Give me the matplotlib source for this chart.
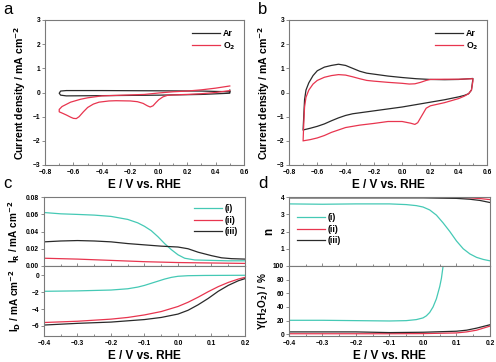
import matplotlib
matplotlib.use("Agg")
import matplotlib.pyplot as plt
import numpy as np

plt.rcParams['font.family'] = ['Liberation Sans', 'DejaVu Sans']
plt.rcParams['font.weight'] = 'bold'
plt.rcParams['axes.labelweight'] = 'bold'
plt.rcParams['mathtext.default'] = 'bf'

# colours
c_black = "#2a2a2a"
c_red = "#e8354f"
c_teal = "#45c9b5"

#####
# DATA
#####

# panel a: CV in Ar / O2 (E in V, j in mA cm-2), closed loops
a_ar_E = [0.5, 0.3, 0.0, -0.4, -0.65, -0.69, -0.7, -0.69, -0.65, -0.4, 0.0, 0.3, 0.5, 0.5]
a_ar_j = [0.03, 0.06, 0.07, 0.08, 0.08, 0.06, -0.03, -0.11, -0.14, -0.13, -0.11, -0.08, -0.03, 0.1]
a_o2_E = [0.5, 0.4, 0.3, 0.2, 0.1, 0.0, -0.1, -0.2, -0.3, -0.4, -0.5, -0.55, -0.62, -0.68, -0.7,
          -0.7, -0.68, -0.65, -0.62, -0.6, -0.58, -0.56, -0.53, -0.5, -0.46, -0.42, -0.35, -0.3,
          -0.2, -0.15, -0.11, -0.08, -0.06, -0.04, -0.02, 0.0, 0.03, 0.06, 0.1, 0.2, 0.3, 0.4, 0.5]
a_o2_j = [0.27, 0.18, 0.11, 0.06, 0.03, -0.02, -0.08, -0.1, -0.12, -0.14, -0.22, -0.28, -0.4, -0.58, -0.7,
          -0.8, -0.85, -0.93, -1.02, -1.07, -1.08, -1.0, -0.8, -0.62, -0.48, -0.4, -0.35, -0.34,
          -0.35, -0.38, -0.45, -0.55, -0.6, -0.55, -0.42, -0.3, -0.18, -0.12, -0.1, -0.08, -0.05, 0.0, 0.08]

# panel b
b_ar_E = [-0.7, -0.695, -0.69, -0.68, -0.66, -0.63, -0.6, -0.55, -0.5, -0.45, -0.4, -0.35, -0.3,
          -0.25, -0.2, -0.1, 0.0, 0.1, 0.2, 0.3, 0.4, 0.5,
          0.5, 0.49, 0.47, 0.44, 0.4, 0.3, 0.2, 0.1, 0.0, -0.1, -0.2, -0.3, -0.35, -0.4, -0.45,
          -0.5, -0.55, -0.6, -0.65, -0.7]
b_ar_j = [-1.5, -0.9, -0.3, 0.1, 0.4, 0.7, 0.9, 1.05, 1.12, 1.17, 1.12, 1.0, 0.88,
          0.8, 0.76, 0.68, 0.62, 0.57, 0.54, 0.53, 0.54, 0.58,
          0.55, 0.1, -0.05, -0.12, -0.18, -0.3, -0.4, -0.5, -0.6, -0.68, -0.76, -0.84, -0.88, -0.95, -1.05,
          -1.17, -1.3, -1.4, -1.48, -1.55]
b_o2_E = [-0.7, -0.695, -0.69, -0.68, -0.66, -0.63, -0.6, -0.55, -0.5, -0.45, -0.4, -0.35, -0.3,
          -0.25, -0.2, -0.1, 0.0, 0.05, 0.09, 0.13, 0.17, 0.2, 0.3, 0.4, 0.5,
          0.5, 0.49, 0.47, 0.44, 0.4, 0.3, 0.2, 0.17, 0.15, 0.13, 0.11, 0.09, 0.06, 0.0, -0.1,
          -0.2, -0.3, -0.4, -0.45, -0.5, -0.55, -0.6, -0.65, -0.7]
b_o2_j = [-1.95, -1.2, -0.6, -0.2, 0.1, 0.35, 0.5, 0.63, 0.7, 0.74, 0.72, 0.65, 0.57,
          0.5, 0.47, 0.42, 0.38, 0.35, 0.36, 0.42, 0.5, 0.54, 0.55, 0.55, 0.57,
          0.45, 0.1, -0.05, -0.15, -0.25, -0.42, -0.55, -0.65, -0.85, -1.05, -1.25, -1.32, -1.27, -1.2, -1.2,
          -1.28, -1.35, -1.45, -1.55, -1.65, -1.78, -1.88, -1.95, -2.0]

# panel c: ring current I_R and disk current I_D
c_ir_E1 = [-0.4, -0.35, -0.3, -0.25, -0.2, -0.15, -0.12, -0.1, -0.08, -0.06, -0.04, -0.02,
           0.0, 0.02, 0.05, 0.1, 0.15, 0.2]
c_ir_1 = [0.062, 0.0605, 0.0598, 0.059, 0.0575, 0.054, 0.050, 0.046, 0.041, 0.034, 0.026, 0.019,
          0.013, 0.009, 0.007, 0.0065, 0.006, 0.006]
c_ir_E2 = [-0.4, -0.3, -0.2, -0.1, 0.0, 0.1, 0.2]
c_ir_2 = [0.009, 0.008, 0.0065, 0.005, 0.004, 0.0035, 0.003]
c_ir_E3 = [-0.4, -0.35, -0.3, -0.25, -0.2, -0.15, -0.1, -0.05, 0.0, 0.03, 0.06, 0.1, 0.13, 0.16, 0.2]
c_ir_3 = [0.028, 0.029, 0.0295, 0.029, 0.028, 0.026, 0.0245, 0.023, 0.022, 0.020, 0.016, 0.012,
          0.0095, 0.0085, 0.008]

c_id_E1 = [-0.4, -0.3, -0.2, -0.15, -0.12, -0.1, -0.08, -0.06, -0.04, -0.02, 0.0, 0.03, 0.08, 0.2]
c_id_1 = [-1.9, -1.85, -1.75, -1.6, -1.4, -1.2, -0.95, -0.7, -0.45, -0.25, -0.12, -0.05, -0.02, 0.0]
c_id_E23 = [-0.4, -0.3, -0.2, -0.15, -0.1, -0.05, 0.0, 0.03, 0.06, 0.09, 0.12, 0.15, 0.18, 0.2]
c_id_2 = [-5.6, -5.45, -5.2, -5.0, -4.7, -4.3, -3.7, -3.2, -2.6, -1.95, -1.35, -0.85, -0.45, -0.25]
c_id_3 = [-5.9, -5.7, -5.55, -5.4, -5.25, -5.0, -4.6, -4.15, -3.5, -2.75, -1.9, -1.2, -0.65, -0.4]

# panel d: electron number n and peroxide yield
d_n_E1 = [-0.4, -0.3, -0.2, -0.1, -0.05, -0.02, 0.0, 0.02, 0.04, 0.06, 0.08, 0.1, 0.12, 0.14,
          0.16, 0.18, 0.2]
d_n_1 = [3.6, 3.58, 3.6, 3.6, 3.56, 3.5, 3.42, 3.25, 2.95, 2.5, 2.0, 1.45, 1.0, 0.7,
         0.5, 0.38, 0.3]
d_n_E23 = [-0.4, -0.2, 0.0, 0.1, 0.14, 0.17, 0.2]
d_n_2 = [3.98, 3.98, 3.98, 3.97, 3.95, 3.91, 3.85]
d_n_3 = [3.95, 3.95, 3.95, 3.92, 3.87, 3.8, 3.68]

d_y_E1 = [-0.4, -0.3, -0.2, -0.1, -0.05, -0.02, 0.0, 0.01, 0.02, 0.03, 0.04, 0.05, 0.055, 0.06]
d_y_1 = [20.5, 20.5, 20.0, 19.5, 20.0, 21.5, 24, 27, 32, 40, 52, 70, 82, 100]
d_y_E23 = [-0.4, -0.2, -0.1, 0.0, 0.1, 0.13, 0.16, 0.2]
d_y_2 = [0.8, 0.8, 0.8, 1.0, 2.0, 3.5, 6.0, 12]
d_y_3 = [3.5, 3.5, 2.5, 3.0, 4.5, 6.0, 9.0, 14]

#####
# FIGURE
#####

fs_tick = 4.8
fs_label = 8.5
fs_leg = 6.3
lw = 0.9
frame_col = "#7a7a7a"

fig = plt.figure(figsize=(4.96, 3.62), dpi=100)

def px_axes(x0, y0, x1, y1):
	# pixel box (top-left origin) -> axes
	return fig.add_axes([x0 / 496, 1 - y1 / 362, (x1 - x0) / 496, (y1 - y0) / 362])

def style(ax, xlim, xticks, xminor, ylim, yticks, show_x=True):
	ax.set_xlim(xlim)
	ax.set_ylim(ylim)
	ax.set_xticks(xticks)
	ax.set_xticks(xminor, minor=True)
	ax.set_yticks(yticks)
	for s in ax.spines.values():
		s.set_color(frame_col)
		s.set_linewidth(0.8)
	ax.tick_params(axis="x", which="both", direction="in", color=frame_col,
		labelsize=fs_tick, pad=3, length=2.5, width=0.6)
	ax.tick_params(axis="x", which="minor", length=1.5)
	ax.tick_params(axis="y", direction="out", color=frame_col,
		labelsize=fs_tick, pad=1.5, length=2, width=0.6)
	for t in ax.get_xticklabels() + ax.get_yticklabels():
		t.set_fontweight("bold")
	if not show_x:
		ax.tick_params(axis="x", labelbottom=False)

def leg(ax, **kw):
	ax.legend(frameon=False, handlelength=3.2, handletextpad=0.3,
		labelspacing=0.3, prop={"weight": "bold", "size": fs_leg}, **kw)

# --- a ---
ax_a = px_axes(45, 20, 244, 165)
ax_a.plot(a_ar_E, a_ar_j, color=c_black, lw=lw, label="Ar")
ax_a.plot(a_o2_E, a_o2_j, color=c_red, lw=lw, label="O$_2$")
style(ax_a, (-0.8, 0.6), np.arange(-0.8, 0.61, 0.2), np.arange(-0.7, 0.6, 0.2),
	(-3, 3), np.arange(-3, 4, 1))
ax_a.set_ylabel("Current density / mA cm$^{-2}$", fontsize=7.6, labelpad=3)
ax_a.set_xlabel("E / V vs. RHE", fontsize=fs_label, labelpad=2)

# --- b ---
ax_b = px_axes(289, 20, 487, 165)
ax_b.plot(b_ar_E, b_ar_j, color=c_black, lw=lw, label="Ar")
ax_b.plot(b_o2_E, b_o2_j, color=c_red, lw=lw, label="O$_2$")
style(ax_b, (-0.8, 0.6), np.arange(-0.8, 0.61, 0.2), np.arange(-0.7, 0.6, 0.2),
	(-3, 3), np.arange(-3, 4, 1))
ax_b.set_ylabel("Current density / mA cm$^{-2}$", fontsize=7.6, labelpad=3)
ax_b.set_xlabel("E / V vs. RHE", fontsize=fs_label, labelpad=2)

for ax in (ax_a, ax_b):
	leg(ax, loc="upper right", borderaxespad=0.6)

# --- c ---
ax_c1 = px_axes(44, 197, 245, 266)
ax_c2 = px_axes(44, 266, 245, 336)
ax_c1.plot(c_ir_E1, c_ir_1, color=c_teal, lw=lw, label="(i)")
ax_c1.plot(c_ir_E2, c_ir_2, color=c_red, lw=lw, label="(ii)")
ax_c1.plot(c_ir_E3, c_ir_3, color=c_black, lw=lw, label="(iii)")
ax_c2.plot(c_id_E1, c_id_1, color=c_teal, lw=lw)
ax_c2.plot(c_id_E23, c_id_2, color=c_red, lw=lw)
ax_c2.plot(c_id_E23, c_id_3, color=c_black, lw=lw)
xt = np.arange(-0.4, 0.21, 0.1)
xm = np.arange(-0.35, 0.2, 0.1)
style(ax_c1, (-0.4, 0.2), xt, xm, (0, 0.08), [0.0, 0.02, 0.04, 0.06, 0.08], show_x=False)
ax_c1.set_yticklabels(["0.00", "0.02", "0.04", "0.06", "0.08"], fontweight="bold")
style(ax_c2, (-0.4, 0.2), xt, xm, (-7.2, 1.1), [-6, -4, -2, 0])
ax_c1.set_ylabel("I$_R$ / mA cm$^{-2}$", fontsize=7.2, labelpad=3)
ax_c2.set_ylabel("I$_D$ / mA cm$^{-2}$", fontsize=7.2, labelpad=6)
ax_c2.set_xlabel("E / V vs. RHE", fontsize=fs_label, labelpad=2)
leg(ax_c1, loc="upper right", borderaxespad=0.4)

# --- d ---
ax_d1 = px_axes(289, 197, 490, 266)
ax_d2 = px_axes(289, 266, 490, 336)
ax_d1.plot(d_n_E1, d_n_1, color=c_teal, lw=lw, label="(i)")
ax_d1.plot(d_n_E23, d_n_2, color=c_red, lw=lw, label="(ii)")
ax_d1.plot(d_n_E23, d_n_3, color=c_black, lw=lw, label="(iii)")
ax_d2.plot(d_y_E1, d_y_1, color=c_teal, lw=lw)
ax_d2.plot(d_y_E23, d_y_2, color=c_red, lw=lw)
ax_d2.plot(d_y_E23, d_y_3, color=c_black, lw=lw)
style(ax_d1, (-0.4, 0.2), xt, xm, (0, 4), [1, 2, 3, 4], show_x=False)
style(ax_d2, (-0.4, 0.2), xt, xm, (-2.5, 100), [0, 20, 40, 60, 80, 100])
ax_d1.set_ylabel("n", fontsize=fs_label, labelpad=4)
ax_d2.set_ylabel("Y(H$_2$O$_2$) / %", fontsize=7.2, labelpad=2)
ax_d2.set_xlabel("E / V vs. RHE", fontsize=fs_label, labelpad=2)
leg(ax_d1, loc="upper left", bbox_to_anchor=(0.0, 0.88))

# panel letters
for txt, x, y in [("a", 3, 10), ("b", 258, 10), ("c", 3, 183), ("d", 258, 183)]:
	fig.text(x / 496, 1 - y / 362, txt, fontsize=12, fontweight="normal",
		va="center", ha="left")

fig.savefig("out.png", dpi=100)
